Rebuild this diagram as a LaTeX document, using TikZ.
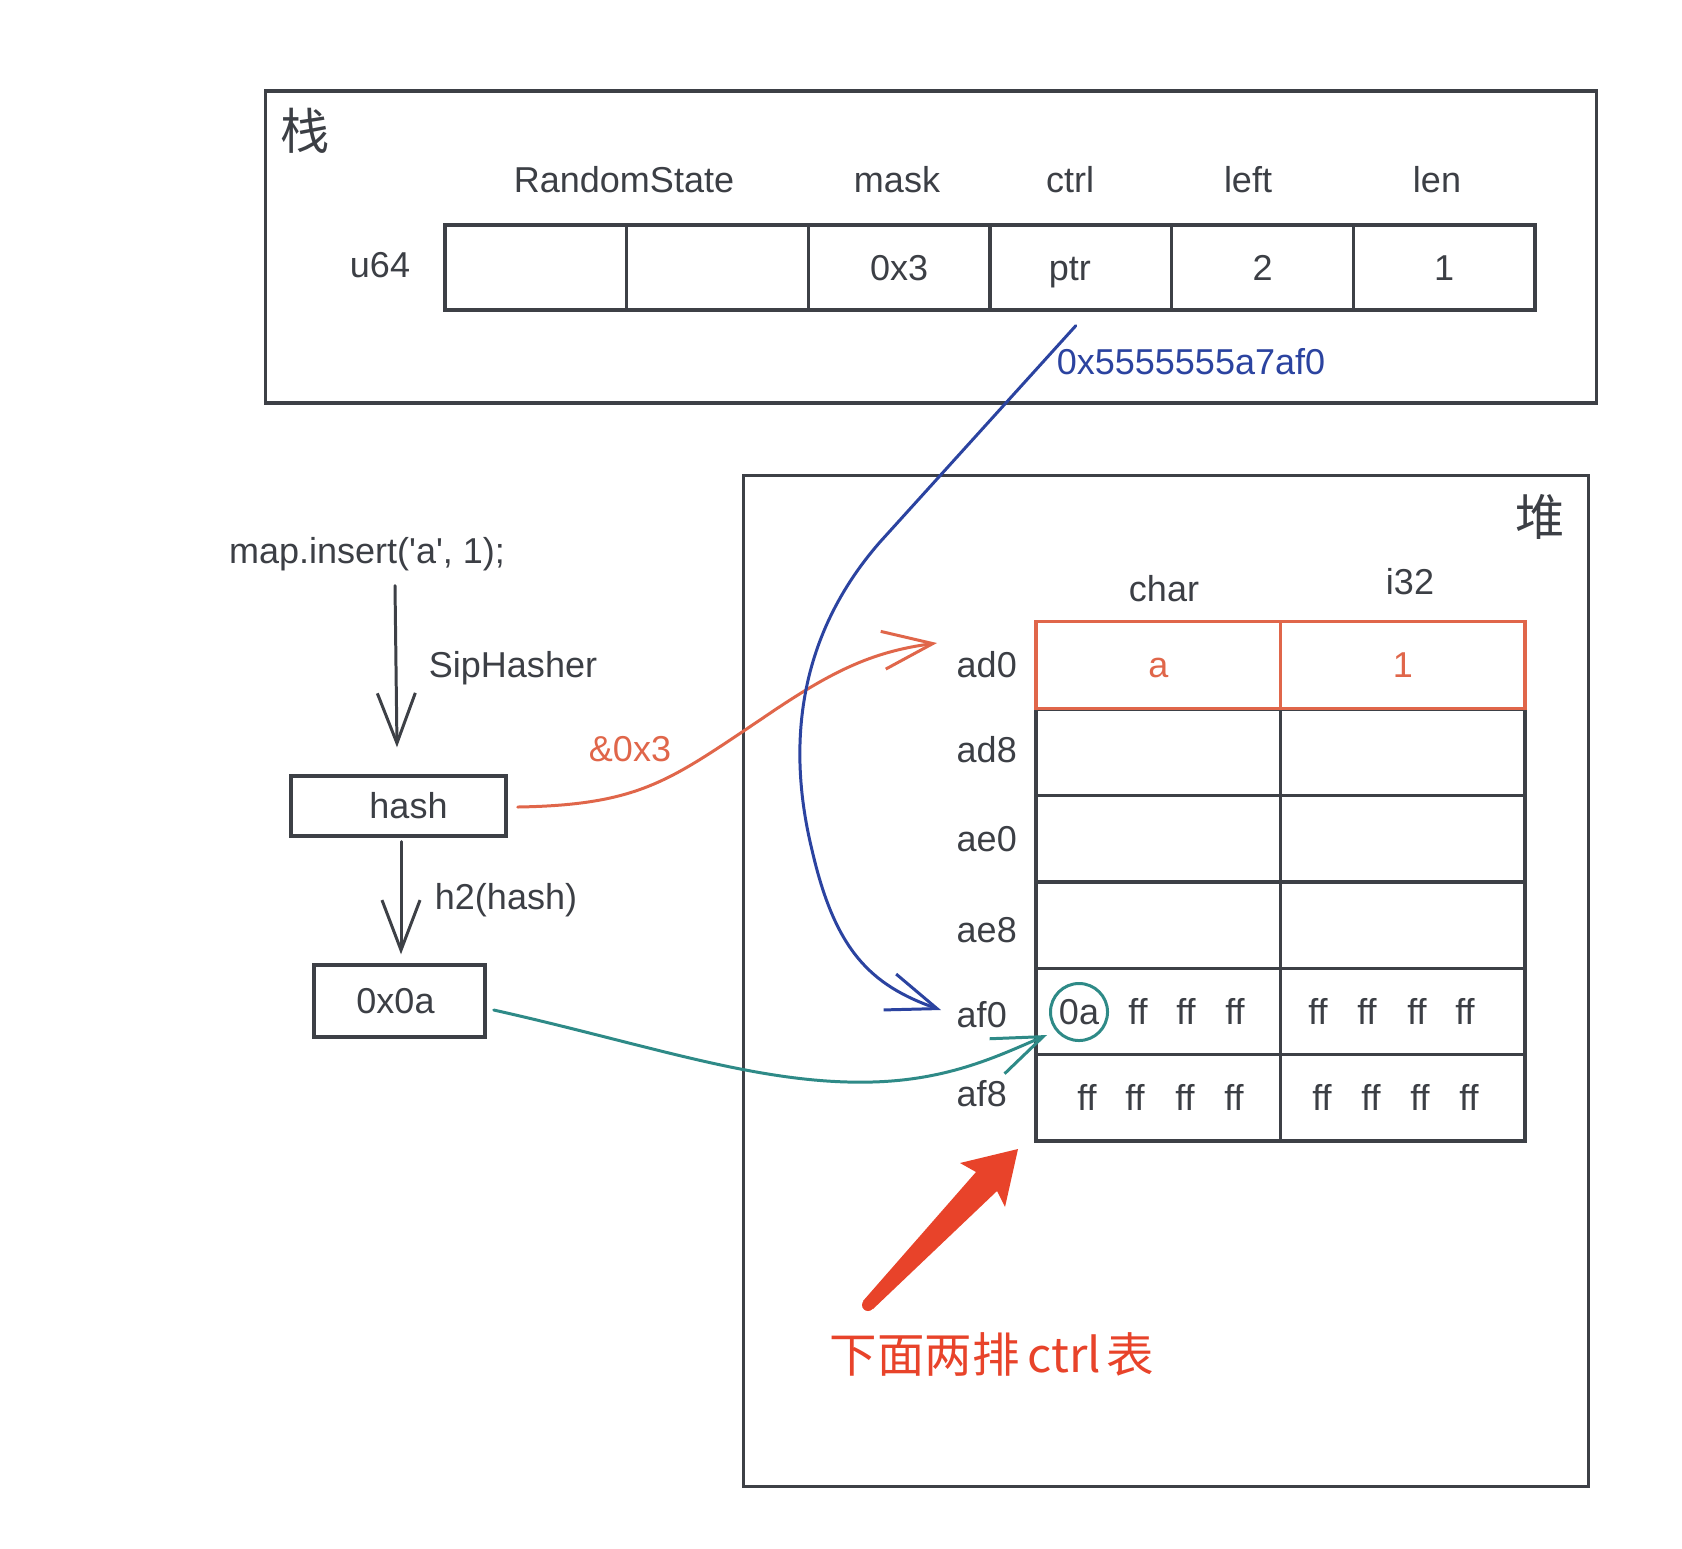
\documentclass[tikz,border=0pt]{standalone}
\usepackage{fontspec}
\setmainfont{Liberation Sans}
\newfontfamily\cjk{Noto Sans CJK SC}
\usetikzlibrary{arrows.meta,calc,shapes.geometric}
\definecolor{ink}{HTML}{3C3F45}
\definecolor{lineg}{HTML}{3D4046}
\definecolor{bluec}{HTML}{2B43A0}
\definecolor{orangec}{HTML}{E0664A}
\definecolor{tealc}{HTML}{2E8A87}
\definecolor{redc}{HTML}{E8432A}
\begin{document}
\begin{tikzpicture}[x=0.01cm,y=-0.01cm,
 txt/.style={font=\fontsize{10.24pt}{12pt}\selectfont, text=ink, inner sep=0pt, text height=7.37pt, text depth=0pt},
 cjklbl/.style={font=\cjk\fontsize{14pt}{16pt}\selectfont, text=ink, inner sep=0pt},
 scell/.style={txt, draw=lineg, line width=0.95pt, minimum width=1.8167cm, minimum height=0.85cm},
 hcell/.style={txt, draw=lineg, line width=0.95pt, minimum width=2.445cm, minimum height=0.8633cm},
 boxframe/.style={draw=lineg, line width=0.95pt, inner sep=0pt},
 conn/.style={line width=0.85pt, line cap=round, line join=round},
 arr/.style={-{Straight Barb[length=0.5cm,width=0.38cm]}},
 rowlbl/.style={txt, anchor=west},
]
\fill[white] (0,0) rectangle (1682,1548);
\useasboundingbox (0,0) rectangle (1682,1548);

% ---------- stack ----------
\node[boxframe, minimum width=13.30cm, minimum height=3.12cm] (stack) at (931,247) {};
\node[cjklbl] (stacklbl) at (305,131) {栈};
\node[txt] (hRS) at (624,180) {RandomState};
\node[txt] (hmask) at (897,180) {mask};
\node[txt] (hctrl) at (1070,180) {ctrl};
\node[txt] (hleft) at (1248,180) {left};
\node[txt] (hlen) at (1437,180) {len};
\node[txt] (u64) at (380,265) {u64};
\node[scell] (c1) at (535.8,267.5) {};
\node[scell] (c2) at (717.5,267.5) {};
\node[scell] (c3) at (899.2,267.5) {0x3};
\node[scell] (c4) at (1080.8,267.5) {ptr\hspace*{0.22cm}};
\node[scell] (c5) at (1262.5,267.5) {2};
\node[scell] (c6) at (1444.2,267.5) {1};
\node[txt, text=bluec] (addr) at (1191,362) {0x5555555a7af0};

% ---------- heap ----------
\node[boxframe, minimum width=8.44cm, minimum height=10.10cm] (heap) at (1166,981) {};
\node[cjklbl] (heaplbl) at (1540,517) {堆};
\node[txt] (hchar) at (1164,589) {char};
\node[txt] (hi32) at (1410,582) {i32};
\foreach \i/\y in {2/752.5,3/838.8,4/925.2,5/1011.5,6/1097.8}{
  \node[hcell] (hl\i) at (1158.25,\y) {};
  \node[hcell] (hr\i) at (1402.75,\y) {};
}
\node[hcell, draw=orangec, text=orangec] (hl1) at (1158.25,665) {a};
\node[hcell, draw=orangec, text=orangec] (hr1) at (1402.75,665) {1};
\node[rowlbl] (lad0) at (956,665) {ad0};
\node[rowlbl] (lad8) at (956,750) {ad8};
\node[rowlbl] (lae0) at (956,839) {ae0};
\node[rowlbl] (lae8) at (956,930) {ae8};
\node[rowlbl] (laf0) at (956,1015) {af0};
\node[rowlbl] (laf8) at (956,1094) {af8};
\node[txt, circle, draw=tealc, line width=0.85pt, minimum size=0.57cm, inner sep=0pt] (c0a) at (1079,1012) {0a};
\foreach \x [count=\k] in {1138,1186,1235,1318,1367,1417,1465}
  \node[txt] (fa\k) at (\x,1012) {ff};
\foreach \x [count=\k] in {1087,1135,1185,1234,1322,1371,1420,1469}
  \node[txt] (fb\k) at (\x,1098) {ff};

% ---------- left flow ----------
\node[txt] (map) at (367,551) {map.insert(\textquotesingle a\textquotesingle, 1);};
\node[txt] (sip) at (513,665) {SipHasher};
\node[txt, boxframe, minimum width=2.15cm, minimum height=0.60cm] (hash) at (398.5,806) {\hspace*{0.2cm}hash};
\node[txt] (h2) at (506,897) {h2(hash)};
\node[txt, boxframe, minimum width=1.71cm, minimum height=0.72cm] (v0a) at (399.5,1001) {0x0a\hspace*{0.08cm}};
\node[txt, text=orangec] (and3) at (630,749) {\&0x3};

\coordinate (a1s) at ($(map.south)+(28,21)$);
\draw[lineg, conn, arr] (a1s) -- ($(hash.north)+(-1.5,-27)$);
\draw[lineg, conn, arr] ($(hash.south)+(2.5,4)$) -- ($(v0a.north)+(1.5,-9)$);

% orange connector
\coordinate (orS) at ($(hash.east)+(10,1)$);
\coordinate (orE) at ($(lad0.west)+(-19,-22)$);
\draw[orangec, conn, arr] (orS) .. controls (640,805) and (670,780) .. (760,720) .. controls (830,672) and (870,652) .. (orE);

% blue connector
\coordinate (blS) at ($(c4.south)+(-5,14)$);
\coordinate (blE) at ($(laf0.west)+(-15,-5)$);
\draw[bluec, conn, arr] (blS) -- (880,542) .. controls (790,645) and (790,760) .. (812,850) .. controls (835,950) and (870,985) .. (blE);

% teal connector
\coordinate (tlS) at ($(v0a.east)+(7,9)$);
\coordinate (tlE) at ($(c0a)+(-32,23)$);
\draw[tealc, conn, arr] (tlS) .. controls (650,1045) and (760,1085) .. (872,1082) .. controls (950,1080) and (1000,1055) .. (tlE);

% big red arrow
\fill[redc] (863,1301) -- (976,1172) -- (960,1163) -- (1018,1149) -- (1005,1207) -- (997,1191) -- (873,1309) -- cycle;
\fill[redc] (868,1305) circle (6);
\node[cjklbl, text=redc, font=\cjk\fontsize{13.5pt}{16pt}\selectfont] (note) at (992,1354) {下面两排\hspace{0.08cm}ctrl\hspace{0.06cm}表};
\end{tikzpicture}
\end{document}
